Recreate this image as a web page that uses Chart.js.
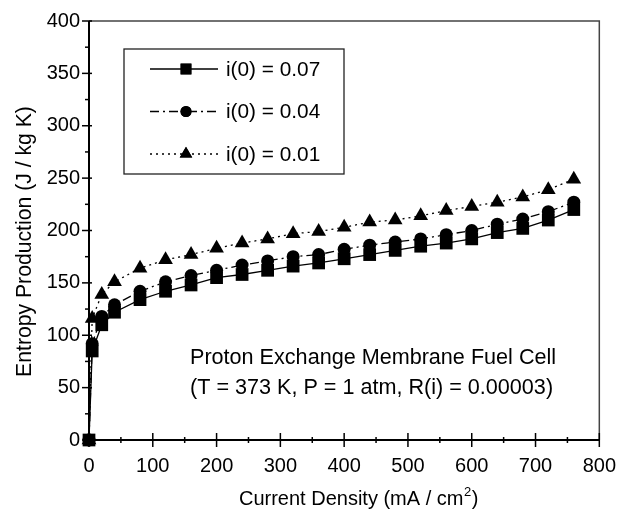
<!DOCTYPE html>
<html>
<head>
<meta charset="utf-8">
<script src="https://cdn.jsdelivr.net/npm/chart.js@4/dist/chart.umd.min.js"></script>
<style>
html,body{margin:0;padding:0;background:#fff;}
#wrap{width:630px;height:510px;position:relative;}
</style>
</head>
<body>
<div id="wrap"><canvas id="c" width="630" height="510"></canvas></div>
<script>
// ---- data ----
const currentDensity = [0, 5, 20, 40, 80, 120, 160, 200, 240, 280, 320, 360, 400, 440, 480, 520, 560, 600, 640, 680, 720, 760];
const entropy_i007 = [0, 85, 110, 122, 134, 142, 148, 155, 158, 162, 166, 169, 173, 177, 181, 185, 188, 192, 198, 202, 210, 220];
const entropy_i004 = [0, 92, 118, 129, 142, 151, 157, 162, 167, 171, 175, 177, 182, 186, 189, 192, 196, 200, 206, 211, 218, 227];
const entropy_i001 = [0, 116, 139, 151, 164, 172, 177, 183, 188, 192, 197, 199, 203, 208, 210, 214, 219, 223, 227, 232, 239, 249];
const seriesLabels = ['i(0) = 0.07', 'i(0) = 0.04', 'i(0) = 0.01'];
const xTicks = [0, 100, 200, 300, 400, 500, 600, 700, 800];
const yTicks = [0, 50, 100, 150, 200, 250, 300, 350, 400];
const xTitleMain = 'Current Density (mA / cm';
const xTitleSup = '2';
const xTitleEnd = ')';
const yTitle = 'Entropy Production (J / kg K)';
const annotationLines = ['Proton Exchange Membrane Fuel Cell', '(T = 373 K, P = 1 atm, R(i) = 0.00003)'];

const FONT = "'Liberation Sans', Arial, Helvetica, sans-serif";

function pts(ys) { return currentDensity.map((x, i) => ({x: x, y: ys[i]})); }

const styles = [
  {pointStyle: 'rect', pointRadius: 9, borderDash: []},
  {pointStyle: 'circle', pointRadius: 6.5, borderDash: [9, 4, 2, 4]},
  {pointStyle: 'triangle', pointRadius: 8.5, borderDash: [2, 4]}
];
const allSeries = [entropy_i007, entropy_i004, entropy_i001];

const datasets = allSeries.map((ys, i) => ({
  label: seriesLabels[i],
  data: pts(ys),
  borderColor: '#000',
  backgroundColor: '#000',
  borderWidth: 1.3,
  borderDash: styles[i].borderDash,
  pointStyle: styles[i].pointStyle,
  pointRadius: styles[i].pointRadius,
  pointBackgroundColor: '#000',
  pointBorderColor: '#000',
  pointBorderWidth: 0,
  tension: 0,
  clip: false
}));

const framePlugin = {
  id: 'frame',
  afterDraw(chart) {
    const ctx = chart.ctx;
    const a = chart.chartArea;
    const xs = chart.scales.x, ys = chart.scales.y;
    ctx.save();
    // top and right border
    ctx.strokeStyle = '#444';
    ctx.lineWidth = 1.5;
    ctx.beginPath();
    ctx.moveTo(a.left, a.top); ctx.lineTo(a.right, a.top); ctx.lineTo(a.right, a.bottom);
    ctx.stroke();
    // axes
    ctx.strokeStyle = '#000';
    ctx.lineWidth = 2;
    ctx.beginPath();
    ctx.moveTo(a.left, a.top); ctx.lineTo(a.left, a.bottom); ctx.lineTo(a.right, a.bottom);
    ctx.stroke();
    ctx.lineWidth = 1.5;
    // x ticks
    for (let v = xs.min; v <= xs.max; v += 50) {
      const px = xs.getPixelForValue(v);
      const major = v % 100 === 0;
      const h = major ? 7 : 3;
      ctx.beginPath(); ctx.moveTo(px, a.bottom - h); ctx.lineTo(px, a.bottom + h); ctx.stroke();
    }
    // y ticks
    for (let v = ys.min; v <= ys.max; v += 25) {
      const py = ys.getPixelForValue(v);
      const major = v % 50 === 0;
      const l = major ? 7 : 4;
      const r = major ? 3 : 0;
      ctx.beginPath(); ctx.moveTo(a.left - l, py); ctx.lineTo(a.left + r, py); ctx.stroke();
    }
    ctx.fillStyle = '#000';
    // x title with superscript
    const tf = 20;
    ctx.font = tf + 'px ' + FONT;
    const w1 = ctx.measureText(xTitleMain).width;
    ctx.font = (tf * 0.65) + 'px ' + FONT;
    const w2 = ctx.measureText(xTitleSup).width;
    ctx.font = tf + 'px ' + FONT;
    const w3 = ctx.measureText(xTitleEnd).width;
    const total = w1 + w2 + w3;
    const cx = (a.left + a.right) / 2 + 14;
    let tx = cx - total / 2;
    const base = 505;
    ctx.textAlign = 'left';
    ctx.textBaseline = 'alphabetic';
    ctx.fillText(xTitleMain, tx, base);
    ctx.font = (tf * 0.65) + 'px ' + FONT;
    ctx.fillText(xTitleSup, tx + w1 + 0.5, base - 9);
    ctx.font = tf + 'px ' + FONT;
    ctx.fillText(xTitleEnd, tx + w1 + w2 + 1, base);
    // y title
    ctx.save();
    ctx.translate(25, (a.top + a.bottom) / 2 + 11);
    ctx.rotate(-Math.PI / 2);
    ctx.font = '21.2px ' + FONT;
    ctx.textAlign = 'center';
    ctx.textBaseline = 'middle';
    ctx.fillText(yTitle, 0, 0);
    ctx.restore();
    // annotation
    ctx.font = '21.6px ' + FONT;
    ctx.textAlign = 'left';
    ctx.textBaseline = 'middle';
    const ax = a.left + 101;
    ctx.fillText(annotationLines[0], ax, 358);
    ctx.fillText(annotationLines[1], ax, 388);
    // legend
    const bx = a.left + 35, by = a.top + 28, bw = 220, bh = 125;
    ctx.strokeStyle = '#222';
    ctx.lineWidth = 1.3;
    ctx.strokeRect(bx, by, bw, bh);
    chart.data.datasets.forEach((ds, i) => {
      const ry = by + 20 + i * 42.5;
      ctx.save();
      ctx.strokeStyle = '#000';
      ctx.lineWidth = 1.5;
      ctx.setLineDash(ds.borderDash);
      ctx.beginPath(); ctx.moveTo(bx + 26, ry); ctx.lineTo(bx + 94, ry); ctx.stroke();
      ctx.restore();
      ctx.fillStyle = '#000';
      Chart.helpers.drawPoint(ctx, {pointStyle: ds.pointStyle, radius: ds.pointRadius * 0.85, borderWidth: 0, rotation: 0}, bx + 62, ry);
      ctx.fill();
      ctx.fillStyle = '#000';
      ctx.font = '20.8px ' + FONT;
      ctx.textBaseline = 'middle';
      ctx.fillText(ds.label, bx + 102, ry + 1);
    });
    ctx.restore();
  }
};

new Chart(document.getElementById('c'), {
  type: 'line',
  data: {datasets: datasets},
  options: {
    responsive: false,
    animation: false,
    layout: {padding: {left: 0, top: 15, right: 29, bottom: 0}},
    plugins: {legend: {display: false}, tooltip: {enabled: false}},
    scales: {
      x: {
        type: 'linear', min: 0, max: 800,
        afterBuildTicks(s) { s.ticks = xTicks.map(v => ({value: v})); },
        afterFit(s) { s.height = 70; },
        grid: {display: false, drawTicks: false},
        border: {display: false},
        ticks: {color: '#000', font: {family: FONT, size: 20}, padding: 14, maxRotation: 0},
        title: {display: false}
      },
      y: {
        type: 'linear', min: 0, max: 400,
        afterBuildTicks(s) { s.ticks = yTicks.map(v => ({value: v})); },
        afterFit(s) { s.width = 89; },
        grid: {display: false, drawTicks: false},
        border: {display: false},
        ticks: {color: '#000', font: {family: FONT, size: 20}, padding: 9},
        title: {display: false}
      }
    }
  },
  plugins: [framePlugin]
});
</script>
</body>
</html>
